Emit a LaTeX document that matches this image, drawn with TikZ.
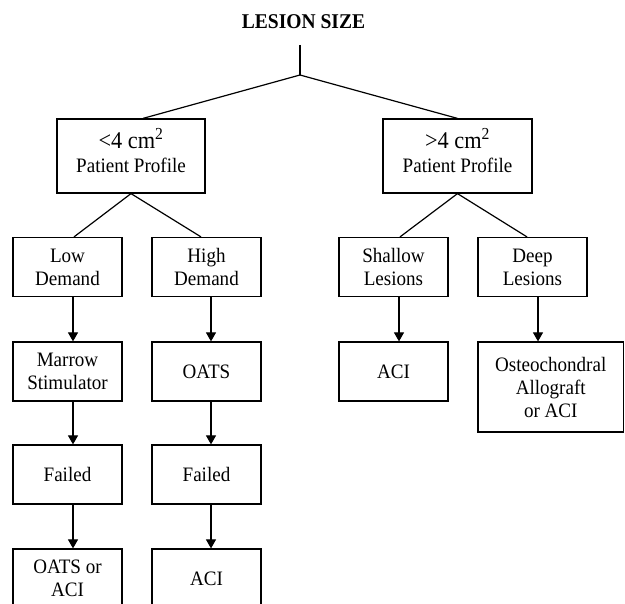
\documentclass[tikz,border=0pt]{standalone}
\usepackage{fontspec}
\setmainfont{Liberation Serif}[FakeStretch=0.93]
\usetikzlibrary{arrows.meta}
\begin{document}
\begin{tikzpicture}[x=1pt,y=-1pt,
  box/.style={draw,line width=1.2pt,inner sep=0pt,minimum width=109pt,minimum height=59pt,align=center,font=\fontsize{20.5}{23}\selectfont},
  bigbox/.style={box,minimum width=148pt,minimum height=74pt},
  conn/.style={line width=1.2pt},
  arr/.style={line width=1.2pt,-{Triangle[width=10pt,length=9pt]}}]
\useasboundingbox (0,0) rectangle (625,604);
\fill[white] (0,0) rectangle (625,604);
\node[font=\bfseries\fontsize{21}{23}\selectfont] (title) at (303.5,22) {LESION SIZE};
\coordinate (rtop) at (300,45);
\coordinate (apex) at (300,75);
\node[bigbox] (A) at (131,156) {{\fontsize{24}{24}\selectfont <4 cm\textsuperscript{2}}\\[1pt]Patient Profile\rule[-12pt]{0pt}{12pt}};
\node[bigbox,minimum width=149pt] (B) at (457.5,156) {{\fontsize{24}{24}\selectfont >4 cm\textsuperscript{2}}\\[1pt]Patient Profile\rule[-12pt]{0pt}{12pt}};
\node[box] (LD) at (67.5,267) {Low\\Demand};
\node[box] (HD) at (206.5,267) {High\\Demand};
\node[box] (MS) at (67.5,371.5) {Marrow\\Stimulator};
\node[box] (OATS) at (206.5,371.5) {OATS};
\node[box] (F1) at (67.5,474.5) {Failed};
\node[box] (F2) at (206.5,474.5) {Failed};
\node[box] (OA) at (67.5,578.5) {OATS or\\ACI};
\node[box] (ACIb) at (206.5,578.5) {ACI};
\node[box] (SL) at (393.5,267) {Shallow\\Lesions};
\node[box] (DL) at (532.5,267) {Deep\\Lesions};
\node[box] (ACIr) at (393.5,371.5) {ACI};
\node[box,minimum width=145.5pt,minimum height=90pt] (OC) at (550.75,387) {Osteochondral\\Allograft\\or ACI};
\draw[conn] (rtop) -- (apex);
\draw[conn] (apex) -- ([xshift=12pt]A.north);
\draw[conn] (apex) -- (B.north);
\draw[conn] (A.south) -- ([xshift=6.5pt]LD.north);
\draw[conn] (A.south) -- ([xshift=-5.5pt]HD.north);
\draw[conn] (B.south) -- ([xshift=6.5pt]SL.north);
\draw[conn] (B.south) -- ([xshift=-5.5pt]DL.north);
\draw[arr] ([xshift=5.5pt]LD.south) -- ([xshift=5.5pt]MS.north);
\draw[arr] ([xshift=5.5pt]MS.south) -- ([xshift=5.5pt]F1.north);
\draw[arr] ([xshift=5.5pt]F1.south) -- ([xshift=5.5pt]OA.north);
\draw[arr] ([xshift=4.5pt]HD.south) -- ([xshift=4.5pt]OATS.north);
\draw[arr] ([xshift=4.5pt]OATS.south) -- ([xshift=4.5pt]F2.north);
\draw[arr] ([xshift=4.5pt]F2.south) -- ([xshift=4.5pt]ACIb.north);
\draw[arr] ([xshift=5.5pt]SL.south) -- ([xshift=5.5pt]ACIr.north);
\draw[arr] ([xshift=5.5pt]DL.south) -- ([xshift=5.5pt]DL.south |- OC.north);
\end{tikzpicture}
\end{document}
